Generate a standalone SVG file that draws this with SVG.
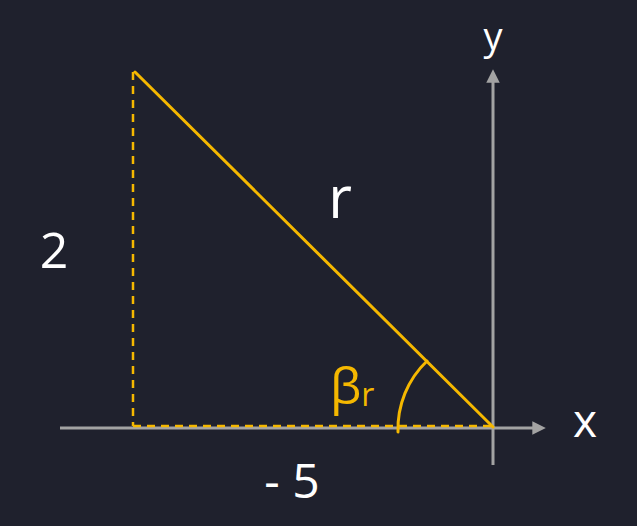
<svg xmlns="http://www.w3.org/2000/svg" width="637" height="526" viewBox="0 0 637 526">
<defs>
<style>
.axis{stroke:#a3a3a3;stroke-width:3;fill:none}
.yel{stroke:#f5b800;stroke-width:3;fill:none;stroke-linecap:round}
.dash{stroke:#f5b800;stroke-width:2.5;fill:none;stroke-dasharray:8 6}
.lbl{font-family:"Open Sans","Liberation Sans",sans-serif;fill:#ffffff;font-weight:400}
.ylbl{font-family:"Open Sans","Liberation Sans",sans-serif;fill:#f5b800;font-weight:400}
</style>
<marker id="arr" viewBox="0 0 10 10" refX="2" refY="5" markerWidth="4.5" markerHeight="4.5" orient="auto" markerUnits="strokeWidth">
<path d="M0,0 L10,5 L0,10 z" fill="#a3a3a3"/>
</marker>
</defs>
<rect width="637" height="526" fill="#1f212d"/>
<g id="connectors">
<line class="axis" x1="60" y1="428" x2="535" y2="428" marker-end="url(#arr)"/>
<line class="axis" x1="493" y1="465" x2="493" y2="80" marker-end="url(#arr)"/>
<line class="dash" x1="133" y1="72" x2="133" y2="426"/>
<line class="dash" x1="133" y1="426" x2="492" y2="426"/>
<line class="yel" x1="135" y1="72" x2="493" y2="427"/>
<path class="yel" d="M427,361 A94,94 0 0 0 398,432"/>
</g>
<g id="label-y"><text class="lbl" x="493" y="50" font-size="38" text-anchor="middle">y</text></g>
<g id="label-x"><text class="lbl" x="585" y="437" font-size="46" text-anchor="middle">x</text></g>
<g id="label-r"><text class="lbl" x="340" y="218" font-size="58" text-anchor="middle">r</text></g>
<g id="label-2"><text class="lbl" x="54" y="268" font-size="50" text-anchor="middle">2</text></g>
<g id="label-m5"><text class="lbl" x="292" y="498" font-size="48" text-anchor="middle">- 5</text></g>
<g id="label-beta"><text class="ylbl" x="330" y="404" font-size="50">β<tspan font-size="32" dy="2">r</tspan></text></g>
</svg>
